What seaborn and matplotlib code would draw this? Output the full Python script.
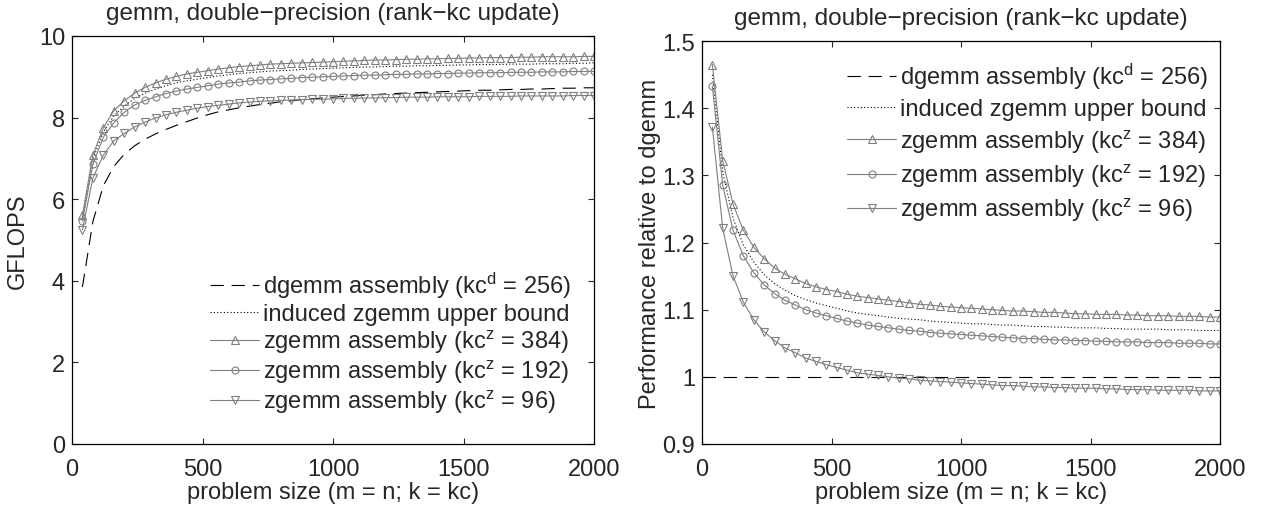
import numpy as np
import pandas as pd
import seaborn as sns
import matplotlib
matplotlib.use("Agg")
import matplotlib.pyplot as plt

# problem sizes (m = n; k = kc)
sizes = list(range(40, 2001, 40))

# GFLOPS (left panel)
dgemm_gflops = [3.85, 5.45, 6.33, 6.80, 7.10, 7.31, 7.47, 7.60, 7.71, 7.81,
                7.90, 7.99, 8.07, 8.14, 8.19, 8.24, 8.28, 8.32, 8.35, 8.39,
                8.41, 8.44, 8.46, 8.48, 8.50, 8.52, 8.53, 8.55, 8.56, 8.58,
                8.59, 8.60, 8.61, 8.62, 8.63, 8.64, 8.65, 8.66, 8.67, 8.67,
                8.68, 8.69, 8.69, 8.70, 8.70, 8.71, 8.72, 8.72, 8.73, 8.73]
bound_gflops = [5.55, 6.98, 7.65, 8.04, 8.28, 8.47, 8.60, 8.70, 8.78, 8.85,
                8.90, 8.94, 8.98, 9.02, 9.05, 9.08, 9.10, 9.12, 9.14, 9.15,
                9.16, 9.18, 9.19, 9.20, 9.21, 9.22, 9.23, 9.24, 9.24, 9.25,
                9.26, 9.26, 9.27, 9.27, 9.28, 9.28, 9.29, 9.29, 9.30, 9.30,
                9.30, 9.31, 9.31, 9.31, 9.32, 9.32, 9.32, 9.33, 9.33, 9.34]
z384_gflops = [5.60, 7.08, 7.75, 8.17, 8.41, 8.60, 8.74, 8.85, 8.94, 9.01,
               9.07, 9.11, 9.15, 9.19, 9.22, 9.25, 9.27, 9.29, 9.31, 9.32,
               9.33, 9.34, 9.35, 9.36, 9.37, 9.38, 9.39, 9.40, 9.41, 9.41,
               9.42, 9.43, 9.43, 9.44, 9.44, 9.45, 9.45, 9.46, 9.46, 9.47,
               9.47, 9.47, 9.48, 9.48, 9.49, 9.49, 9.49, 9.49, 9.50, 9.50]
z192_gflops = [5.46, 6.86, 7.52, 7.87, 8.13, 8.31, 8.42, 8.51, 8.59, 8.65,
               8.70, 8.74, 8.78, 8.82, 8.85, 8.87, 8.90, 8.92, 8.93, 8.95,
               8.96, 8.98, 8.99, 9.00, 9.01, 9.02, 9.03, 9.04, 9.04, 9.05,
               9.06, 9.06, 9.07, 9.07, 9.08, 9.08, 9.09, 9.09, 9.10, 9.10,
               9.10, 9.11, 9.11, 9.11, 9.12, 9.12, 9.12, 9.13, 9.13, 9.13]
z96_gflops = [5.25, 6.52, 7.08, 7.43, 7.61, 7.77, 7.89, 7.99, 8.07, 8.13,
              8.18, 8.23, 8.27, 8.30, 8.33, 8.36, 8.38, 8.40, 8.41, 8.42,
              8.43, 8.44, 8.45, 8.45, 8.46, 8.47, 8.47, 8.48, 8.48, 8.49,
              8.49, 8.50, 8.50, 8.50, 8.51, 8.51, 8.51, 8.51, 8.52, 8.52,
              8.52, 8.52, 8.53, 8.53, 8.53, 8.53, 8.53, 8.54, 8.54, 8.54]

# performance relative to dgemm (right panel)
base_sizes = [0, 2000]
base_ratio = [1.0, 1.0]
bound_ratio = [1.450, 1.305, 1.236, 1.196, 1.171, 1.152, 1.139, 1.129, 1.121, 1.115,
               1.110, 1.106, 1.102, 1.098, 1.095, 1.093, 1.091, 1.089, 1.087, 1.086,
               1.085, 1.083, 1.082, 1.081, 1.080, 1.079, 1.079, 1.078, 1.077, 1.077,
               1.076, 1.075, 1.075, 1.074, 1.074, 1.073, 1.073, 1.073, 1.072, 1.072,
               1.071, 1.071, 1.071, 1.071, 1.070, 1.070, 1.070, 1.069, 1.069, 1.069]
z384_ratio = [1.465, 1.322, 1.257, 1.218, 1.193, 1.176, 1.162, 1.153, 1.146, 1.139,
              1.134, 1.130, 1.127, 1.123, 1.120, 1.118, 1.116, 1.114, 1.112, 1.110,
              1.108, 1.107, 1.105, 1.104, 1.103, 1.102, 1.101, 1.100, 1.099, 1.098,
              1.098, 1.097, 1.096, 1.096, 1.095, 1.094, 1.094, 1.093, 1.093, 1.093,
              1.092, 1.092, 1.091, 1.091, 1.091, 1.090, 1.090, 1.090, 1.089, 1.089]
z192_ratio = [1.433, 1.285, 1.218, 1.180, 1.155, 1.137, 1.124, 1.114, 1.107, 1.100,
              1.095, 1.091, 1.087, 1.083, 1.080, 1.077, 1.075, 1.073, 1.071, 1.069,
              1.068, 1.066, 1.065, 1.064, 1.063, 1.062, 1.061, 1.060, 1.059, 1.058,
              1.057, 1.057, 1.056, 1.055, 1.055, 1.054, 1.054, 1.053, 1.053, 1.052,
              1.052, 1.052, 1.051, 1.051, 1.051, 1.050, 1.050, 1.050, 1.049, 1.049]
z96_ratio = [1.372, 1.221, 1.150, 1.111, 1.085, 1.067, 1.054, 1.043, 1.036, 1.028,
             1.023, 1.018, 1.014, 1.010, 1.006, 1.004, 1.002, 1.000, 0.998, 0.997,
             0.995, 0.994, 0.993, 0.992, 0.991, 0.990, 0.989, 0.988, 0.987, 0.987,
             0.986, 0.985, 0.985, 0.984, 0.984, 0.983, 0.983, 0.983, 0.982, 0.982,
             0.981, 0.981, 0.981, 0.980, 0.980, 0.980, 0.980, 0.979, 0.979, 0.979]

labels = ['dgemm assembly (kc$^{d}$ = 256)',
          'induced zgemm upper bound',
          'zgemm assembly (kc$^{z}$ = 384)',
          'zgemm assembly (kc$^{z}$ = 192)',
          'zgemm assembly (kc$^{z}$ = 96)']
title = 'gemm, double\u2212precision (rank\u2212kc update)'
xlabel = 'problem size (m = n; k = kc)'
xticks = [0, 500, 1000, 1500, 2000]

sns.set_style('ticks', {'xtick.direction': 'in', 'ytick.direction': 'in'})
plt.rcParams['font.family'] = ['Liberation Sans', 'DejaVu Sans']
plt.rcParams['mathtext.default'] = 'regular'
plt.rcParams['xtick.top'] = True
plt.rcParams['ytick.right'] = True

FS = 17
gray = '#7f7f7f'
mk = dict(color=gray, linewidth=0.8, markersize=6, markerfacecolor='none',
          markeredgecolor=gray, markeredgewidth=0.8, errorbar=None)

fig = plt.figure(figsize=(12.61, 5.10), dpi=100)
ax1 = fig.add_axes([0.0571, 0.1275, 0.414, 0.800])
ax2 = fig.add_axes([0.5567, 0.1275, 0.4108, 0.790])


def draw_panel(ax, bx, base, bound, z384, z192, z96):
    sns.lineplot(x=bx, y=base, ax=ax, color='black', linewidth=0.8,
                 linestyle=(0, (12, 7)), label=labels[0], errorbar=None)
    sns.lineplot(x=sizes, y=bound, ax=ax, color='black', linewidth=0.8,
                 linestyle=(0, (1, 2)), label=labels[1], errorbar=None)
    sns.lineplot(x=sizes, y=z384, ax=ax, marker='^', label=labels[2], **mk)
    sns.lineplot(x=sizes, y=z192, ax=ax, marker='o', label=labels[3],
                 **{**mk, 'markersize': 5})
    sns.lineplot(x=sizes, y=z96, ax=ax, marker='v', label=labels[4], **mk)
    ax.set_xlim(0, 2000)
    ax.set_xticks(xticks)
    ax.set_xticklabels([str(t) for t in xticks])
    ax.set_xlabel(xlabel, fontsize=FS, labelpad=1)
    ax.set_title(title, fontsize=17.5, pad=12)
    ax.tick_params(labelsize=FS, length=4, width=0.8, pad=5)
    ax.tick_params(axis='x', pad=10)
    for s in ax.spines.values():
        s.set_linewidth(0.9)
        s.set_color('black')


draw_panel(ax1, sizes, dgemm_gflops, bound_gflops, z384_gflops, z192_gflops, z96_gflops)
ax1.set_ylim(0, 10)
ax1.set_yticks([0, 2, 4, 6, 8, 10])
ax1.set_yticklabels(['0', '2', '4', '6', '8', '10'])
ax1.set_ylabel('GFLOPS', fontsize=FS)
ax1.yaxis.set_label_coords(-0.082, 0.5)
ax1.legend(loc='lower right', bbox_to_anchor=(0.974, 0.048), fontsize=FS,
           frameon=False, handlelength=2.1, handletextpad=0.15,
           labelspacing=0.12, borderpad=0.4, borderaxespad=0)

draw_panel(ax2, base_sizes, base_ratio, bound_ratio, z384_ratio, z192_ratio, z96_ratio)
ax2.set_ylim(0.9, 1.5)
ax2.set_yticks([0.9, 1.0, 1.1, 1.2, 1.3, 1.4, 1.5])
ax2.set_yticklabels(['0.9', '1', '1.1', '1.2', '1.3', '1.4', '1.5'])
ax2.set_ylabel('Performance relative to dgemm', fontsize=FS)
ax2.yaxis.set_label_coords(-0.08, 0.5)
ax2.legend(loc='upper right', bbox_to_anchor=(0.995, 0.974), fontsize=FS,
           frameon=False, handlelength=2.1, handletextpad=0.15,
           labelspacing=0.3, borderpad=0.4, borderaxespad=0)

fig.savefig('out.png', dpi=100)
